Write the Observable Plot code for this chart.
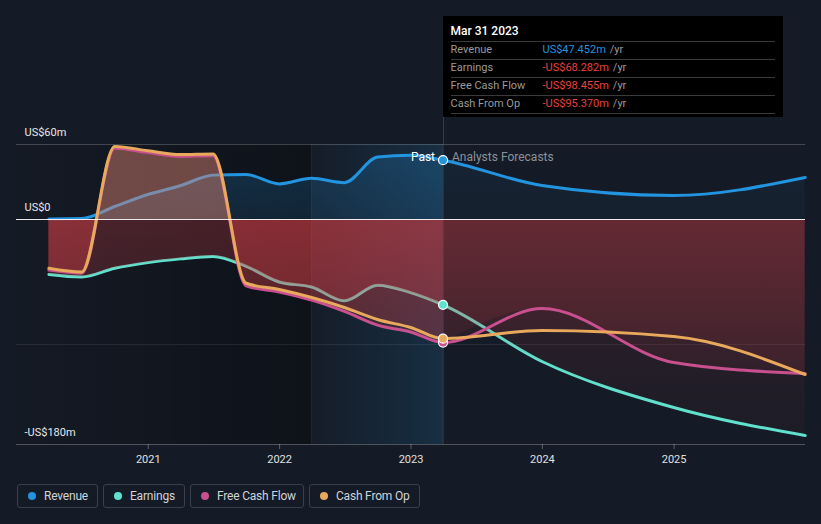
<!DOCTYPE html>
<html><head><meta charset="utf-8">
<script src="https://cdn.jsdelivr.net/npm/d3@7"></script>
<script src="https://cdn.jsdelivr.net/npm/@observablehq/plot@0.6"></script>
<style>
body{margin:0;background:#151b26;font-family:Roboto,"Open Sans",sans-serif;}
#wrap{position:relative;width:821px;height:470px;}
#tip{position:absolute;top:16px;background:#000;box-sizing:border-box;padding:0 8px;font-size:11px;}
#tip .t{color:#fff;font-size:12px;font-weight:500;height:25px;line-height:30px;}
#tip .r{border-top:1px solid #3a3a3a;height:17px;line-height:16px;color:#9a9a9a;display:flex;}
#tip .r:last-child{border-bottom:1px solid #3a3a3a;}
#tip .l{width:92px;}
#tip .u{color:#9a9a9a;margin-left:4px;}
#conn{position:absolute;width:1px;background:rgba(255,255,255,0.15);}
#legend{display:flex;gap:5px;margin:14px 0 0 17px;}
#legend .b{height:24px;box-sizing:border-box;border:1px solid #3a4049;border-radius:3px;padding:0 0 0 10px;display:flex;align-items:center;color:#d0d3d8;font-size:12px;letter-spacing:-0.2px;}
#legend .b:nth-child(1){width:81px;}
#legend .b:nth-child(2){width:82px;}
#legend .b:nth-child(3){width:114px;}
#legend .b:nth-child(4){width:111px;}
#legend .d{width:8px;height:8px;border-radius:50%;margin-right:8px;}
</style></head><body>
<div id="wrap"></div>
<div id="legend"></div>
<script>
// ---- data (US$ m) ----
const pastDates = ["2020-03-31","2020-06-30","2020-09-30","2020-12-31","2021-03-31","2021-06-30","2021-09-30","2021-12-31","2022-03-31","2022-06-30","2022-09-30","2022-12-31","2023-03-31"];
const forecastDates = ["2023-03-31","2023-12-31","2024-12-31","2025-12-31"];
const revenuePast = [0.5,0.8,10.4,20,27,35.5,36,28.5,33,29.5,50,51.5,47.452];
const revenueForecast = [47.452,27.2,19.2,33.6];
const earningsPast = [-44,-46,-39,-34.5,-31.5,-29.5,-37.5,-50,-54,-65,-52.5,-58.5,-68.282];
const earningsForecast = [-68.282,-113.6,-150.4,-172.8];
const fcfPast = [-40.5,-43,57,53.5,50.5,51,-53,-58,-64.5,-73.5,-84.5,-90,-98.455];
const fcfForecast = [-98.455,-71.2,-114.4,-123.2];
const cfoPast = [-39,-42,58.5,55,52,52.5,-51,-56,-62.4,-70.4,-80,-86.4,-95.37];
const cfoForecast = [-95.37,-88.8,-93.6,-124];
const seriesNames = ["Revenue","Earnings","Free Cash Flow","Cash From Op"];
const seriesColors = ["#2394df","#5fe3cf","#c8508e","#e9a95c"];
const yTicks = [60, 0, -180];
const yTickLabels = ["US$60m","US$0","-US$180m"];
const faintGrid = [-100];
const xTickYears = ["2021-01-01","2022-01-01","2023-01-01","2024-01-01","2025-01-01"];
const xDomain = ["2020-01-01","2026-01-01"];
const yDomain = [-180, 60];
const bandStartDate = "2022-03-31";
const nowDate = "2023-03-31";
const tipTitle = "Mar 31 2023";
const tipValues = ["US$47.452m","-US$68.282m","-US$98.455m","-US$95.370m"];

const parse = d3.utcParse("%Y-%m-%d");
const rows = (dates, vals) => dates.map((d,i)=>({date: parse(d), value: vals[i]}));
const S = {
  rev:{past:rows(pastDates,revenuePast), fc:rows(forecastDates,revenueForecast)},
  earn:{past:rows(pastDates,earningsPast), fc:rows(forecastDates,earningsForecast)},
  fcf:{past:rows(pastDates,fcfPast), fc:rows(forecastDates,fcfForecast)},
  cfo:{past:rows(pastDates,cfoPast), fc:rows(forecastDates,cfoForecast)}
};
const all = k => S[k].past.concat(S[k].fc.slice(1));
const x0 = parse(xDomain[0]), x1 = parse(xDomain[1]);
const bandStart = parse(bandStartDate), now = parse(nowDate);
const regions = [
  {x1: x0, x2: bandStart, fill: "url(#gDark)"},
  {x1: bandStart, x2: now, fill: "url(#gBand)"}
];
const curve = "monotone-x";
const area = (data, fill) => Plot.areaY(data, {x:"date", y1:0, y2:"value", fill, curve});
const line = (k, c) => Plot.line(all(k), {x:"date", y:"value", stroke:c, strokeWidth:3, curve});
const nowPts = ["rev","earn","fcf","cfo"].map((k,i)=>({date: now, value: S[k].past[S[k].past.length-1].value, c: seriesColors[i]}));

const chart = Plot.plot({
  width: 821, height: 470,
  marginLeft: 16, marginRight: 16, marginTop: 144, marginBottom: 26,
  style: {background: "transparent", color: "#e0e0e0", fontFamily: "Roboto, 'Open Sans', sans-serif", fontSize: "11px"},
  x: {type: "utc", domain: [x0, x1], ticks: xTickYears.map(parse), tickFormat: d3.utcFormat("%Y"), tickSize: 5, tickPadding: 6, label: null},
  y: {domain: yDomain, axis: null},
  marks: [
    Plot.rect(regions, {x1:"x1", x2:"x2", y1: yDomain[0], y2: yDomain[1], fill:"fill"}),
    Plot.ruleY(yTicks.slice(0,1), {stroke:"#fff", strokeOpacity:0.2}),
    Plot.ruleY(faintGrid, {stroke:"#fff", strokeOpacity:0.08}),
    Plot.ruleY([yDomain[0]], {stroke:"#fff", strokeOpacity:0.25}),
    Plot.ruleX([bandStart], {y1: yDomain[0], y2: yDomain[1], stroke:"#fff", strokeOpacity:0.06}),
    Plot.ruleX([now], {y1: yDomain[0], y2: yDomain[1], stroke:"#fff", strokeOpacity:0.15}),
    area(S.rev.past, "url(#gRevP)"),
    area(S.rev.fc, "url(#gRevF)"),
    line("rev", seriesColors[0]),
    line("earn", seriesColors[1]),
    area(S.earn.past, "url(#gEarnP)"),
    area(S.earn.fc, "url(#gEarnF)"),
    area(S.fcf.past, "url(#gFcfP)"),
    area(S.fcf.fc, "url(#gFcfF)"),
    area(S.cfo.past, "url(#gCfoP)"),
    area(S.cfo.fc, "url(#gCfoF)"),
    line("fcf", seriesColors[2]),
    line("cfo", seriesColors[3]),
    Plot.ruleY([0], {stroke:"#fff", strokeOpacity:0.9}),
    Plot.dot(nowPts, {x:"date", y:"value", fill:"c", stroke:"#fff", strokeWidth:1.2, r:4.5}),
    Plot.text([nowPts[0]], {x:"date", y:"value", text:()=>"Past", dx:-8, dy:-3, textAnchor:"end", fill:"#fff", fontSize:12}),
    Plot.text([nowPts[0]], {x:"date", y:"value", text:()=>"Analysts Forecasts", dx:9, dy:-3, textAnchor:"start", fill:"#8b9099", fontSize:12}),
    Plot.text(yTicks, {y: d=>d, text:(d,i)=>yTickLabels[i], frameAnchor:"left", dx:8, dy:-12, textAnchor:"start", fill:"#e8e8e8", fontSize:11})
  ]
});

// gradients
const ys = chart.scale("y");
const yTop = ys.apply(yDomain[1]), yBot = ys.apply(yDomain[0]), yZero = ys.apply(0);
const z = (yZero - yTop)/(yBot - yTop);
const svg = d3.select(chart);
svg.selectAll('[aria-label="x-axis tick"] path, [aria-label="x-axis tick"]').attr("stroke","#5a606a");
const defs = svg.insert("defs", ":first-child");
function hgrad(id, color, o1, o2){
  const g = defs.append("linearGradient").attr("id", id).attr("x1",0).attr("x2",1).attr("y1",0).attr("y2",0);
  g.append("stop").attr("offset",0).attr("stop-color",color).attr("stop-opacity",o1);
  g.append("stop").attr("offset",1).attr("stop-color",color).attr("stop-opacity",o2);
}
function vgrad(id, posColor, posOp, negColor, negTop, negBot){
  const g = defs.append("linearGradient").attr("id", id).attr("gradientUnits","userSpaceOnUse")
    .attr("x1",0).attr("x2",0).attr("y1",yTop).attr("y2",yBot);
  const st = (o,c,op)=>g.append("stop").attr("offset",o).attr("stop-color",c).attr("stop-opacity",op);
  st(0,posColor,posOp[0]); st(z,posColor,posOp[1]); st(z,negColor,negTop); st(1,negColor,negBot);
}
const red = "#d83f46";
hgrad("gDark", "#000", 0.04, 0.34);
hgrad("gBand", "#2394df", 0.01, 0.16);
vgrad("gRevP", seriesColors[0], [0.24,0.14], red, 0, 0);
vgrad("gRevF", seriesColors[0], [0.08,0.04], red, 0, 0);
vgrad("gEarnP", seriesColors[1], [0.27,0.27], red, 0.27, 0.1);
vgrad("gEarnF", seriesColors[1], [0.16,0.16], red, 0.16, 0.03);
vgrad("gFcfP", seriesColors[2], [0.27,0.27], red, 0.26, 0.1);
vgrad("gFcfF", seriesColors[2], [0.16,0.16], red, 0.16, 0.03);
vgrad("gCfoP", seriesColors[3], [0.27,0.27], red, 0.26, 0.1);
vgrad("gCfoF", seriesColors[3], [0.16,0.16], red, 0.16, 0.03);

const wrap = document.getElementById("wrap");
wrap.appendChild(chart);

// tooltip
const xNow = chart.scale("x").apply(now);
const tip = document.createElement("div");
tip.id = "tip";
tip.style.left = (Math.round(xNow) - 0.5) + "px";
tip.style.width = "340px";
tip.style.height = "101px";
let html = `<div class="t">${tipTitle}</div>`;
seriesNames.forEach((n,i)=>{
  const col = i===0 ? "#2394df" : "#e8403f";
  html += `<div class="r"><span class="l">${n}</span><span style="color:${col}">${tipValues[i]}</span><span class="u">/yr</span></div>`;
});
tip.innerHTML = html;
wrap.appendChild(tip);
const conn = document.createElement("div");
conn.id = "conn";
conn.style.left = (Math.round(xNow) - 0.5) + "px";
conn.style.top = "117px";
conn.style.height = (yTop - 117) + "px";
wrap.appendChild(conn);

// legend
const lg = document.getElementById("legend");
seriesNames.forEach((n,i)=>{
  const b = document.createElement("div"); b.className = "b";
  b.innerHTML = `<span class="d" style="background:${seriesColors[i]}"></span>${n}`;
  lg.appendChild(b);
});
</script>
</body></html>
